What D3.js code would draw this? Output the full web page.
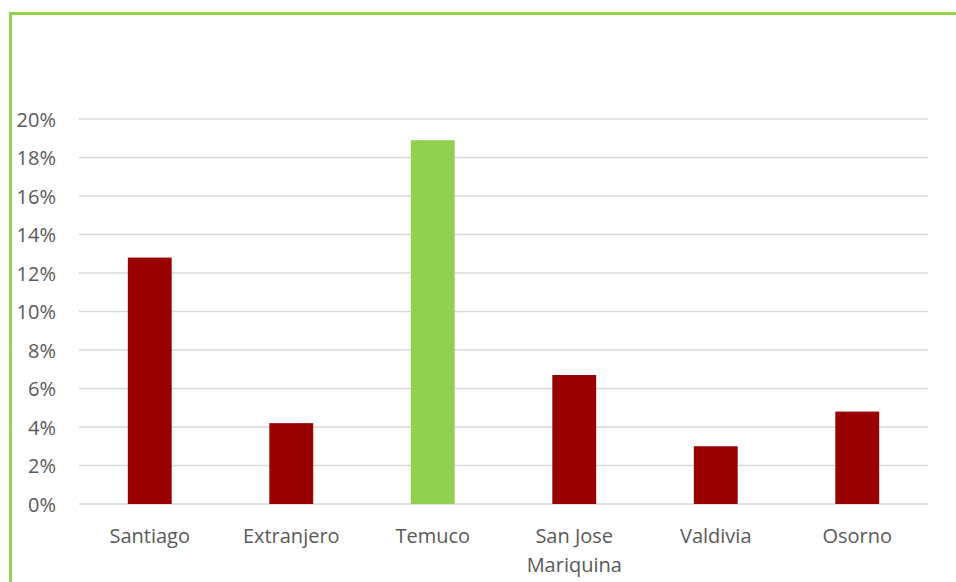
<!DOCTYPE html>
<html><head><meta charset="utf-8">
<script src="https://cdn.jsdelivr.net/npm/d3@7"></script>
<style>body{margin:0;background:#fff;}svg{display:block;}</style>
</head><body>
<svg id="c" width="956" height="582"></svg>
<script>
const categories = ["Santiago", "Extranjero", "Temuco", "San Jose\nMariquina", "Valdivia", "Osorno"];
const values = [0.128, 0.042, 0.189, 0.067, 0.030, 0.048];
const barColors = ["#990000", "#990000", "#92D050", "#990000", "#990000", "#990000"];
const yTicks = [0, 0.02, 0.04, 0.06, 0.08, 0.10, 0.12, 0.14, 0.16, 0.18, 0.20];

const svg = d3.select("#c");
const m = {left: 79, right: 928, top: 119, bottom: 504};
const x = d3.scaleBand().domain(categories).range([m.left, m.right]).paddingInner(0.69).paddingOuter(0.345);
const y = d3.scaleLinear().domain([0, 0.20]).range([m.bottom, m.top]);
const font = "'Open Sans', sans-serif";

// border
svg.append("line").attr("x1", 10.5).attr("x2", 956).attr("y1", 13.5).attr("y2", 13.5).attr("stroke", "#92D050").attr("stroke-width", 3);
svg.append("line").attr("x1", 10.5).attr("x2", 10.5).attr("y1", 12).attr("y2", 582).attr("stroke", "#92D050").attr("stroke-width", 3);

// grid
svg.append("g").selectAll("line").data(yTicks).join("line")
  .attr("x1", m.left).attr("x2", m.right)
  .attr("y1", d => y(d)).attr("y2", d => y(d))
  .attr("stroke", "#d9d9d9").attr("stroke-width", 1.5);

// y labels
const yAxis = d3.axisLeft(y).tickValues(yTicks).tickFormat(d3.format(".0%")).tickSize(0).tickPadding(0);
const ya = svg.append("g").attr("transform", "translate(56,0)").call(yAxis);
ya.select(".domain").remove();
ya.selectAll("text").attr("fill", "#595959").style("font-family", font).style("font-size", "20px").attr("dy", "0.35em");

// bars
svg.append("g").selectAll("rect").data(values).join("rect")
  .attr("x", (d, i) => x(categories[i]))
  .attr("width", x.bandwidth())
  .attr("y", d => y(d))
  .attr("height", d => y(0) - y(d))
  .attr("fill", (d, i) => barColors[i]);

// x labels
const xa = svg.append("g").attr("transform", `translate(0,${m.bottom})`).call(d3.axisBottom(x).tickSize(0).tickFormat(""));
xa.select(".domain").remove();
xa.selectAll(".tick").each(function(d) {
  const t = d3.select(this).append("text").attr("fill", "#595959").attr("text-anchor", "middle")
    .style("font-family", font).style("font-size", "20px");
  d.split("\n").forEach((s, i) => t.append("tspan").attr("x", 0).attr("y", 39 + i * 29).text(s));
});
</script>
</body></html>
